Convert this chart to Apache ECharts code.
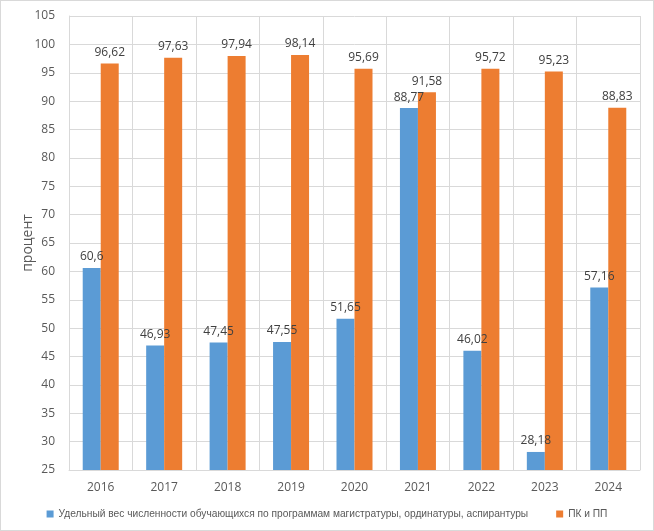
<!DOCTYPE html>
<html>
<head>
<meta charset="utf-8">
<script src="https://cdn.jsdelivr.net/npm/echarts@6/dist/echarts.min.js"></script>
<style>
  html, body {margin: 0; padding: 0; background: #fff;}
  #chart {width: 652px; height: 529px; border: 1px solid #d9d9d9;}
</style>
</head>
<body>
<div id="chart"></div>
<script>
// годы
const years = ['2016', '2017', '2018', '2019', '2020', '2021', '2022', '2023', '2024'];
// удельный вес магистратура/ординатура/аспирантура
const magValues = [60.6, 46.93, 47.45, 47.55, 51.65, 88.77, 46.02, 28.18, 57.16];
// ПК и ПП
const pkValues = [96.62, 97.63, 97.94, 98.14, 95.69, 91.58, 95.72, 95.23, 88.83];
const seriesNames = ['Удельный вес численности обучающихся по программам магистратуры, ординатуры, аспирантуры', 'ПК и ПП'];

let chart = echarts.init(document.getElementById('chart'));

const fmt = p => String(p.value).replace('.', ',');
const labelStyle = {
    show: true,
    position: 'top',
    color: '#404040',
    fontSize: 12,
    fontFamily: 'Open Sans',
    formatter: fmt
};

let option = {
    animation: false,
    textStyle: {fontFamily: 'Open Sans'},
    grid: {left: 68, right: 13, top: 15, bottom: 60},
    legend: {
        bottom: 11,
        left: 'center',
        padding: 0,
        itemWidth: 7,
        itemHeight: 7,
        itemGap: 28,
        icon: 'rect',
        textStyle: {color: '#595959', fontSize: 10.2, fontFamily: 'Liberation Sans'},
        data: seriesNames
    },
    xAxis: {
        type: 'category',
        data: years,
        axisLine: {lineStyle: {color: '#d9d9d9'}},
        axisTick: {show: false},
        splitLine: {show: true, lineStyle: {color: '#d9d9d9'}},
        axisLabel: {color: '#595959', fontSize: 12, margin: 12}
    },
    yAxis: {
        type: 'value',
        min: 25,
        max: 105,
        interval: 5,
        name: 'процент',
        nameLocation: 'middle',
        nameGap: 34,
        nameMoveOverlap: false,
        nameTextStyle: {color: '#595959', fontSize: 14},
        axisLine: {show: true, lineStyle: {color: '#d9d9d9'}},
        axisLabel: {color: '#595959', fontSize: 12, margin: 14},
        splitLine: {lineStyle: {color: '#d9d9d9'}}
    },
    series: [
        {
            name: seriesNames[0],
            type: 'bar',
            data: magValues,
            barWidth: 18,
            barGap: '0%',
            itemStyle: {color: '#5b9bd5'},
            label: labelStyle
        },
        {
            name: seriesNames[1],
            type: 'bar',
            data: pkValues,
            barWidth: 18,
            barGap: '0%',
            itemStyle: {color: '#ed7d31'},
            label: labelStyle
        }
    ]
};
chart.setOption(option);
</script>
</body>
</html>
